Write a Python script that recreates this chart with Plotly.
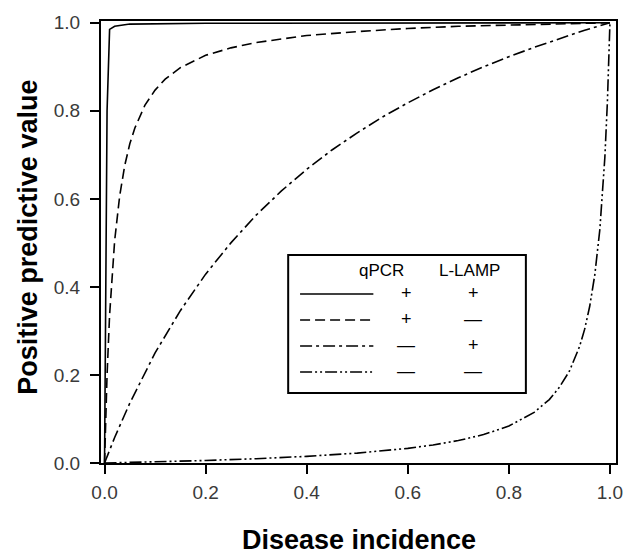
import plotly.graph_objects as go

# ---- data ----
incidence_pp = [0, 0.005, 0.01, 0.02, 0.05, 0.1, 0.2, 0.3, 0.4, 0.5, 0.6, 0.7, 0.8, 0.9, 1.0]
ppv_pp = [0, 0.80, 0.985, 0.992, 0.997, 0.998, 0.999, 0.999, 0.999, 1.0, 1.0, 1.0, 1.0, 1.0, 1.0]

incidence_pm = [0, 0.005, 0.01, 0.02, 0.03, 0.04, 0.05, 0.06, 0.08, 0.1, 0.12, 0.15, 0.2, 0.25,
                0.3, 0.4, 0.5, 0.6, 0.7, 0.8, 0.9, 1.0]
ppv_pm = [0, 0.20, 0.336, 0.505, 0.607, 0.676, 0.725, 0.761, 0.813, 0.847, 0.872, 0.898, 0.926, 0.943,
          0.955, 0.971, 0.980, 0.987, 0.992, 0.995, 0.998, 1.0]

incidence_mp = [0, 0.01, 0.02, 0.05, 0.1, 0.15, 0.2, 0.25, 0.3, 0.35, 0.4, 0.45, 0.5, 0.55, 0.6,
                0.65, 0.7, 0.75, 0.8, 0.85, 0.9, 0.95, 1.0]
ppv_mp = [0, 0.029, 0.058, 0.136, 0.25, 0.346, 0.429, 0.5, 0.563, 0.618, 0.667, 0.711, 0.75, 0.786,
          0.818, 0.848, 0.875, 0.9, 0.923, 0.944, 0.964, 0.983, 1.0]

incidence_mm = [0, 0.1, 0.2, 0.3, 0.4, 0.5, 0.6, 0.65, 0.7, 0.75, 0.8, 0.85, 0.88, 0.9, 0.92, 0.94,
                0.95, 0.96, 0.97, 0.98, 0.99, 0.995, 1.0]
ppv_mm = [0, 0.0026, 0.0057, 0.0098, 0.0151, 0.0225, 0.0333, 0.041, 0.051, 0.0645, 0.084, 0.115,
          0.144, 0.172, 0.209, 0.265, 0.304, 0.356, 0.427, 0.53, 0.695, 0.821, 1.0]

x_ticks = [0.0, 0.2, 0.4, 0.6, 0.8, 1.0]
y_ticks = [0.0, 0.2, 0.4, 0.6, 0.8, 1.0]
legend_header = ["qPCR", "L-LAMP"]
legend_signs = [["+", "+"], ["+", "—"], ["—", "+"], ["—", "—"]]

dashes = ["solid", "10px,5px", "12px,4px,3px,4px", "12px,3px,2px,3px,2px,3px"]
series = [(incidence_pp, ppv_pp), (incidence_pm, ppv_pm), (incidence_mp, ppv_mp), (incidence_mm, ppv_mm)]

W, H = 635, 554
L, R, T, B = 101, 14, 21, 91
PW, PH = W - L - R, H - T - B
FONT = "Arial, Liberation Sans, sans-serif"

def px(xp):
    return (xp - L) / PW

def py(yp):
    return (H - B - yp) / PH

fig = go.Figure()
for (xs, ys), d in zip(series, dashes):
    fig.add_trace(go.Scatter(x=xs, y=ys, mode="lines", showlegend=False,
                             line=dict(color="black", width=1.6, dash=d)))

font_tick = dict(family=FONT, size=19, color="#3a3a3a")
axis_common = dict(showline=True, linecolor="black", linewidth=2, mirror=True,
                   ticks="outside", ticklen=9, tickwidth=1.5, tickcolor="black",
                   showgrid=False, zeroline=False, tickfont=font_tick, tickformat=".1f")

fig.update_xaxes(range=[-0.007, 1.012], tickvals=x_ticks, ticklabelstandoff=2, **axis_common)
fig.update_yaxes(range=[0, 1.004], tickvals=y_ticks, ticklabelstandoff=6, **axis_common)

shapes = [dict(type="rect", xref="paper", yref="paper", x0=px(290), x1=px(530), y0=py(393), y1=py(255),
               line=dict(color="black", width=2), fillcolor="white", layer="above")]
row_y = [294, 320, 346, 372]
for ry, d in zip(row_y, dashes):
    shapes.append(dict(type="line", xref="paper", yref="paper", x0=px(302), x1=px(376), y0=py(ry), y1=py(ry),
                       line=dict(color="black", width=1.6, dash=d), layer="above"))

def text(t, xp, yp, size, **kw):
    return dict(text=t, x=px(xp), y=py(yp), xref="paper", yref="paper", showarrow=False,
                xanchor="center", yanchor="middle",
                font=dict(family=FONT, size=size, color="black"), **kw)

ann = [text(legend_header[0], 384, 270, 17), text(legend_header[1], 473, 270, 17)]
for ry, (a, b) in zip(row_y, legend_signs):
    ann.append(text(a, 409, ry - 1, 18))
    ann.append(text(b, 477, ry - 1, 18))

ann.append(text("<b>Disease incidence</b>", 362, 540, 27))
ann.append(text("<b>Positive predictive value</b>", 27, 237, 27, textangle=-90))

fig.update_layout(width=W, height=H, margin=dict(l=L, r=R, t=T, b=B),
                  paper_bgcolor="white", plot_bgcolor="white",
                  shapes=shapes, annotations=ann)

fig.write_html("out.html")
